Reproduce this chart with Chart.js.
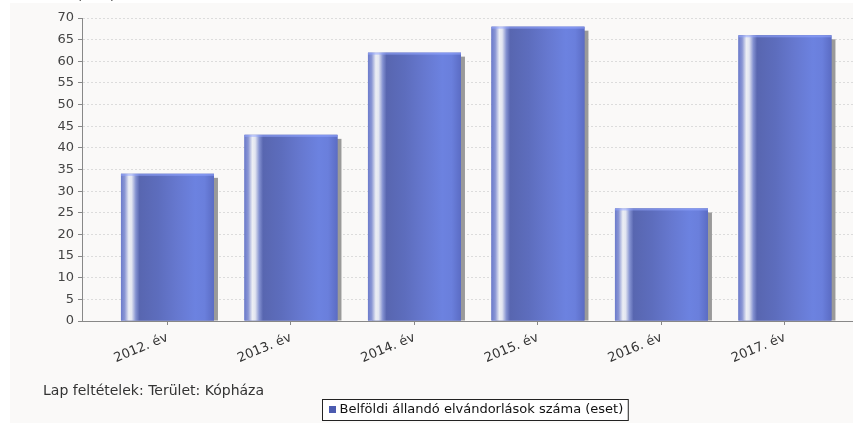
<!DOCTYPE html>
<html>
<head>
<meta charset="utf-8">
<script src="https://cdn.jsdelivr.net/npm/chart.js@4"></script>
<style>
html,body{margin:0;padding:0;background:#fff;overflow:hidden}
#wrap{width:853px;height:423px;position:relative}
</style>
</head>
<body>
<div id="wrap"><canvas id="c" width="853" height="423"></canvas></div>
<script>
const categories = ['2012. év', '2013. év', '2014. év', '2015. év', '2016. év', '2017. év'];
const values = [34, 43, 62, 68, 26, 66];
const yTickValues = [0, 5, 10, 15, 20, 25, 30, 35, 40, 45, 50, 55, 60, 65, 70];
const seriesLabel = 'Belföldi állandó elvándorlások száma (eset)';
const caption = 'Lap feltételek: Terület: Kópháza';
const yTitle = '(eset)';

const FONT = '"DejaVu Sans", "Liberation Sans", sans-serif';

const bgPlugin = {
  id: 'bg',
  beforeDraw(chart) {
    const ctx = chart.ctx;
    ctx.save();
    ctx.fillStyle = '#ffffff';
    ctx.fillRect(0, 0, chart.width, chart.height);
    ctx.fillStyle = '#faf9f8';
    ctx.fillRect(10, 3, chart.width - 10, chart.height - 3);
    ctx.fillStyle = '#444';
    ctx.font = '13px ' + FONT;
    ctx.textAlign = 'center';
    ctx.textBaseline = 'alphabetic';
    ctx.fillText(yTitle, 96, 0);
    ctx.restore();
  }
};

const barPlugin = {
  id: 'barStyle',
  beforeDatasetsDraw(chart) {
    const ctx = chart.ctx, a = chart.chartArea;
    ctx.save();
    ctx.beginPath();
    ctx.rect(a.left, a.top, a.right - a.left, a.bottom - a.top);
    ctx.clip();
    ctx.fillStyle = '#9a9a9a';
    chart.getDatasetMeta(0).data.forEach(el => {
      const w = el.width;
      ctx.fillRect(el.x - w / 2 + 4, el.y + 4, w, el.base - el.y - 4);
    });
    ctx.restore();
  },
  afterDatasetsDraw(chart) {
    const ctx = chart.ctx;
    ctx.save();
    chart.getDatasetMeta(0).data.forEach(el => {
      const w = el.width, x0 = el.x - w / 2;
      const g = ctx.createLinearGradient(x0, 0, x0 + w, 0);
      g.addColorStop(0, '#6b7bcc');
      g.addColorStop(0.04, '#8a96d4');
      g.addColorStop(0.085, '#eceef4');
      g.addColorStop(0.115, '#e2e5f1');
      g.addColorStop(0.16, '#8290d0');
      g.addColorStop(0.2, '#5866b0');
      g.addColorStop(0.4, '#5d6dbd');
      g.addColorStop(0.6, '#6678cf');
      g.addColorStop(0.8, '#6c82e0');
      g.addColorStop(0.9, '#6a7fdc');
      g.addColorStop(1, '#5b6cc4');
      ctx.fillStyle = g;
      ctx.fillRect(x0, el.y, w, el.base - el.y);
      ctx.fillStyle = 'rgba(150,168,255,0.55)';
      ctx.fillRect(x0, el.y, w, 2);
    });
    ctx.restore();
  }
};

const footerPlugin = {
  id: 'footer',
  afterDraw(chart) {
    const ctx = chart.ctx;
    ctx.save();
    ctx.fillStyle = '#333';
    ctx.font = '14px ' + FONT;
    ctx.textAlign = 'left';
    ctx.textBaseline = 'alphabetic';
    ctx.fillText(caption, 43, 395);

    ctx.font = '13px ' + FONT;
    const tw = ctx.measureText(seriesLabel).width;
    const bw = 6 + 7 + 4 + tw + 5;
    const bx = 322.5, by = 399.5, bh = 21;
    ctx.fillStyle = '#ffffff';
    ctx.fillRect(bx, by, bw, bh);
    ctx.strokeStyle = '#222';
    ctx.lineWidth = 1;
    ctx.strokeRect(bx, by, bw, bh);
    ctx.fillStyle = '#4b5bb0';
    ctx.fillRect(Math.round(bx) + 6, 406, 7, 7);
    ctx.fillStyle = '#111';
    ctx.textBaseline = 'middle';
    ctx.fillText(seriesLabel, bx + 17, 410);
    ctx.restore();
  }
};

new Chart(document.getElementById('c'), {
  type: 'bar',
  data: {
    datasets: [{
      label: seriesLabel,
      data: values.map((v, i) => ({ x: i, y: v })),
      backgroundColor: '#5d6dbd',
      borderWidth: 0,
      categoryPercentage: 1,
      barPercentage: 0.753
    }]
  },
  options: {
    responsive: false,
    devicePixelRatio: 1,
    animation: false,
    layout: { padding: { top: 18, left: 0, right: 0, bottom: 0 } },
    plugins: { legend: { display: false }, tooltip: { enabled: false } },
    scales: {
      x: {
        type: 'linear',
        offset: false,
        min: -0.692,
        max: 5.551,
        afterBuildTicks: s => { s.ticks = categories.map((_, i) => ({ value: i })); },
        afterFit: s => { s.height = 102; },
        ticks: {
          autoSkip: false,
          minRotation: 22.5,
          maxRotation: 22.5,
          padding: 5,
          color: '#333',
          font: { family: FONT, size: 13 },
          callback: v => categories[v]
        },
        grid: { offset: false, drawOnChartArea: false, tickLength: 4, color: '#888' },
        border: { color: '#888', width: 1 }
      },
      y: {
        min: 0,
        max: 70,
        afterBuildTicks: s => { s.ticks = yTickValues.map(v => ({ value: v })); },
        afterFit: s => { s.width = 82; },
        ticks: {
          padding: 4,
          color: '#444',
          font: { family: FONT, size: 13 }
        },
        grid: { color: '#dcdcdc', tickColor: '#888', tickLength: 4, tickBorderDash: [] },
        border: { color: '#888', width: 1, dash: [2, 2] }
      }
    }
  },
  plugins: [bgPlugin, barPlugin, footerPlugin]
});
</script>
</body>
</html>
